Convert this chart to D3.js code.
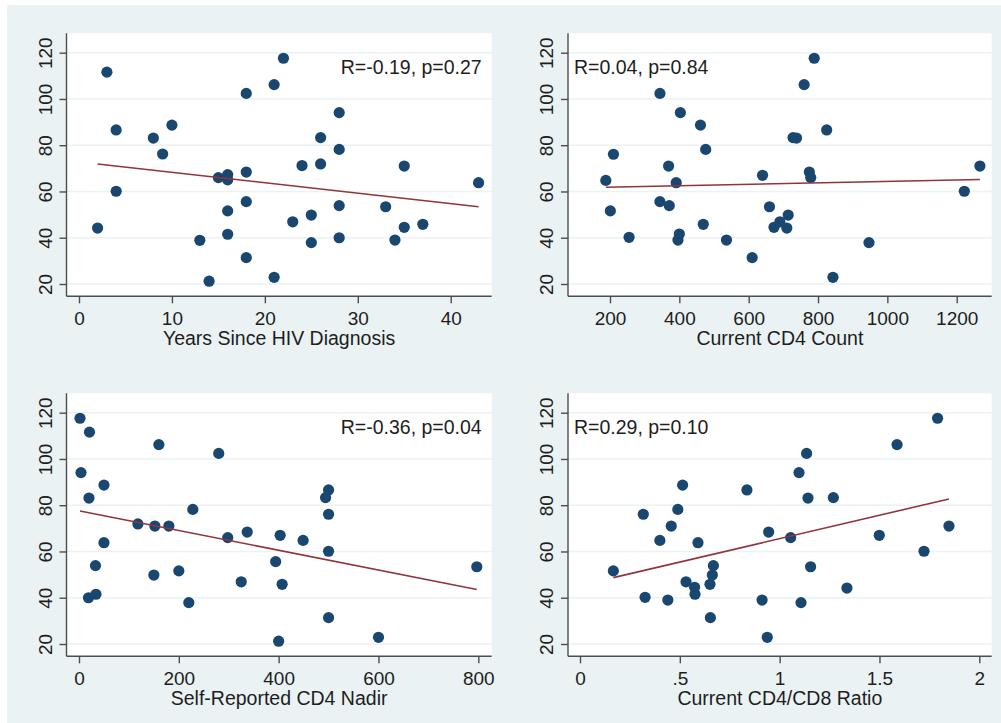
<!DOCTYPE html>
<html>
<head>
<meta charset="utf-8">
<script src="https://cdn.jsdelivr.net/npm/d3@7"></script>
<style>
  body { margin: 0; background: #ffffff; }
  svg { display: block; font-family: "Liberation Sans", Arial, sans-serif; }
</style>
</head>
<body>
<div id="chart"></div>
<script>
// outcome (y) shared ticks
var yTicks = [20, 40, 60, 80, 100, 120];

// panel 1: years since diagnosis
var yearsX = [2, 3, 4, 4, 8, 9, 10, 13, 14, 15, 16, 16, 16, 16, 18, 18, 18, 18, 21, 21, 22, 23, 24, 25, 25, 26, 26, 28, 28, 28, 28, 33, 34, 35, 35, 37, 43];
var yearsY = [44.2, 111.6, 86.6, 60.1, 83.1, 76.2, 88.7, 38.9, 21.2, 66, 67.3, 65, 51.6, 41.5, 102.4, 68.4, 55.6, 31.4, 106.2, 22.9, 117.6, 46.9, 71.2, 49.8, 37.9, 83.3, 71.9, 94.1, 78.2, 53.9, 40, 53.4, 39, 71, 44.5, 45.8, 63.8];
var yearsFit = [[2, 71.9], [43, 53.4]];
var yearsTicks = [0, 10, 20, 30, 40];

// panel 2: current CD4
var cd4X = [188, 201, 210, 255, 344, 344, 369, 371, 391, 403, 396, 400, 461, 469, 476, 536, 610, 640, 660, 673, 690, 710, 714, 728, 738, 760, 775, 779, 789, 825, 843, 947, 1222, 1267];
var cd4Y = [64.8, 51.6, 76.1, 40.2, 102.4, 55.6, 71, 53.9, 63.8, 94.1, 39, 41.6, 88.7, 45.8, 78.2, 39, 31.4, 67, 53.4, 44.5, 46.9, 44.2, 49.8, 83.3, 83.1, 106.2, 68.4, 66, 117.6, 86.6, 22.9, 37.9, 60.1, 71];
var cd4Fit = [[188, 61.8], [1267, 65.2]];
var cd4Ticks = [200, 400, 600, 800, 1000, 1200];

// panel 3: self-reported nadir
var nadirX = [2, 4, 21, 20, 19, 34, 33, 50, 50, 118, 152, 150, 160, 180, 200, 220, 228, 280, 298, 325, 337, 394, 400, 403, 407, 449, 494, 500, 500, 500, 500, 600, 797];
var nadirY = [117.6, 94.1, 111.6, 83.1, 40, 41.5, 53.9, 88.7, 63.8, 71.9, 71, 49.8, 106.2, 71, 51.6, 37.9, 78.2, 102.4, 66, 46.9, 68.4, 55.6, 21.2, 67, 45.8, 64.8, 83.3, 86.6, 76.1, 60.1, 31.4, 22.9, 53.4];
var nadirFit = [[2, 77.5], [797, 43.6]];
var nadirTicks = [0, 200, 400, 600, 800];

// panel 4: CD4/CD8 ratio
var ratioX = [0.167, 0.317, 0.326, 0.40, 0.44, 0.457, 0.49, 0.514, 0.531, 0.574, 0.576, 0.591, 0.651, 0.653, 0.663, 0.668, 0.836, 0.912, 0.938, 0.945, 1.055, 1.097, 1.107, 1.135, 1.142, 1.155, 1.269, 1.337, 1.499, 1.588, 1.723, 1.791, 1.848];
var ratioY = [51.6, 76.1, 40.2, 64.8, 39, 71, 78.2, 88.7, 46.9, 44.5, 41.5, 63.8, 45.8, 31.4, 49.8, 53.9, 86.6, 39, 22.9, 68.4, 66, 94.1, 37.9, 102.4, 83.1, 53.4, 83.3, 44.2, 67, 106.2, 60.1, 117.6, 71];
var ratioFit = [[0.167, 48.7], [1.848, 82.7]];
var ratioTicks = [0, 0.5, 1, 1.5, 2];
var ratioTickLabels = ["0", ".5", "1", "1.5", "2"];

var titles = ["Years Since HIV Diagnosis", "Current CD4 Count", "Self-Reported CD4 Nadir", "Current CD4/CD8 Ratio"];
var stats = ["R=-0.19, p=0.27", "R=0.04, p=0.84", "R=-0.36, p=0.04", "R=0.29, p=0.10"];

var W = 1001, H = 723;
var navy = "#1a476f", maroon = "#90353b", bg = "#eaf2f3", axisCol = "#4d4d4d", textCol = "#1e1e1e";

var svg = d3.select("#chart").append("svg").attr("width", W).attr("height", H);
svg.append("rect").attr("x", 7).attr("y", 5).attr("width", W - 7).attr("height", H - 5).attr("fill", bg);

// panel layout: plot frame + anchor pixels for the x scale
var panels = [
  {xs: yearsX, ys: yearsY, fit: yearsFit, ticks: yearsTicks, labels: null, dom: [0, 40], rng: [79, 450.7], left: 66.5, right: 491.7, row: 0, statRight: true},
  {xs: cd4X, ys: cd4Y, fit: cd4Fit, ticks: cd4Ticks, labels: null, dom: [200, 1200], rng: [610, 956.7], left: 568, right: 991.7, row: 0, statRight: false},
  {xs: nadirX, ys: nadirY, fit: nadirFit, ticks: nadirTicks, labels: null, dom: [0, 800], rng: [79, 478.3], left: 66.5, right: 491.7, row: 360, statRight: true},
  {xs: ratioX, ys: ratioY, fit: ratioFit, ticks: ratioTicks, labels: ratioTickLabels, dom: [0, 2], rng: [580, 979.3], left: 568, right: 991.7, row: 360, statRight: false}
];

panels.forEach(function(p, i){
  var top = p.row + 33.3, bottom = p.row + 296.3;
  var x = d3.scaleLinear().domain(p.dom).range(p.rng);
  var y = d3.scaleLinear().domain([20, 120]).range([p.row + 284, p.row + 52.7]);
  var g = svg.append("g").attr("class", "panel" + i);

  //plot region
  g.append("rect").attr("x", p.left).attr("y", top).attr("width", p.right - p.left).attr("height", bottom - top).attr("fill", "#fff");

  //gridlines
  g.selectAll(".grid").data(yTicks).enter().append("line")
    .attr("x1", p.left).attr("x2", p.right)
    .attr("y1", function(d){ return y(d); }).attr("y2", function(d){ return y(d); })
    .attr("stroke", bg).attr("stroke-width", 1.6);

  //axes
  var yAxis = g.append("g").attr("transform", "translate(" + p.left + ",0)")
    .call(d3.axisLeft(y).tickValues(yTicks).tickSize(7).tickPadding(9));
  yAxis.select(".domain").attr("d", "M0," + top + "V" + bottom);
  yAxis.selectAll(".tick text")
    .attr("transform", "rotate(-90)").attr("x", 0).attr("y", -15).attr("dy", 0)
    .attr("text-anchor", "middle");

  var xAxis = g.append("g").attr("transform", "translate(0," + bottom + ")")
    .call(d3.axisBottom(x).tickValues(p.ticks).tickSize(7).tickPadding(8)
      .tickFormat(function(d, k){ return p.labels ? p.labels[k] : d; }));
  xAxis.select(".domain").attr("d", "M" + p.left + ",0H" + p.right);

  [yAxis, xAxis].forEach(function(a){
    a.selectAll(".domain, .tick line").attr("stroke", axisCol).attr("stroke-width", 1.4);
    a.selectAll(".tick text").attr("fill", textCol).style("font-size", "19px").style("font-family", "'Liberation Sans', Arial, sans-serif");
  });

  //points
  var pts = p.xs.map(function(v, k){ return {x: v, y: p.ys[k]}; });
  g.selectAll(".dot").data(pts).enter().append("circle")
    .attr("cx", function(d){ return x(d.x); })
    .attr("cy", function(d){ return y(d.y); })
    .attr("r", 5.6).attr("fill", navy);

  //fit line
  g.append("path")
    .attr("d", d3.line().x(function(d){ return x(d[0]); }).y(function(d){ return y(d[1]); })(p.fit))
    .attr("fill", "none").attr("stroke", maroon).attr("stroke-width", 1.6);

  //stat label
  g.append("text")
    .attr("x", p.statRight ? p.right - 10 : p.left + 6)
    .attr("y", p.row + 74)
    .attr("text-anchor", p.statRight ? "end" : "start")
    .attr("fill", textCol).style("font-size", "19.5px")
    .text(stats[i]);

  //axis title
  g.append("text")
    .attr("x", (p.left + p.right) / 2).attr("y", p.row + 345)
    .attr("text-anchor", "middle").attr("fill", textCol).style("font-size", "19.5px")
    .text(titles[i]);
});
</script>
</body>
</html>
